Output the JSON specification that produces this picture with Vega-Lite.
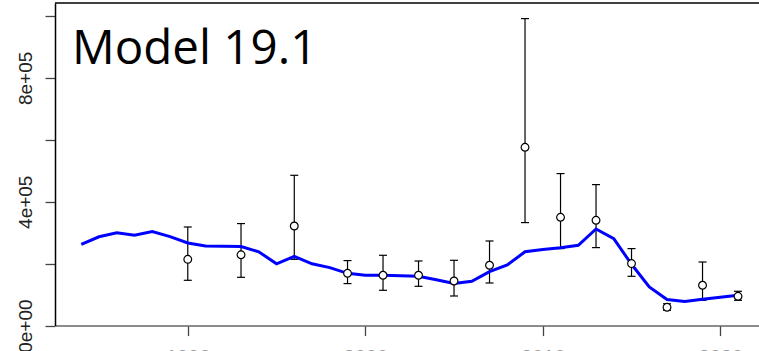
{
  "$schema": "https://vega.github.io/schema/vega-lite/v6.json",
  "autosize": {"type": "none"},
  "padding": {"left": 55, "top": 3, "right": 0, "bottom": 26},
  "width": 709.3,
  "height": 322.6,
  "background": "white",
  "config": {"view": {"stroke": null}},
  "datasets": {
    "fit": [
      {"year": 1984, "value": 262600}, {"year": 1985, "value": 286800}, {"year": 1986, "value": 299700},
      {"year": 1987, "value": 291700}, {"year": 1988, "value": 303600}, {"year": 1989, "value": 287500},
      {"year": 1990, "value": 266800}, {"year": 1991, "value": 257100}, {"year": 1992, "value": 256100},
      {"year": 1993, "value": 255200}, {"year": 1994, "value": 238400}, {"year": 1995, "value": 199600},
      {"year": 1996, "value": 223800}, {"year": 1997, "value": 199600}, {"year": 1998, "value": 187300},
      {"year": 1999, "value": 168900}, {"year": 2000, "value": 162500}, {"year": 2001, "value": 162500},
      {"year": 2002, "value": 160900}, {"year": 2003, "value": 159200}, {"year": 2004, "value": 147900},
      {"year": 2005, "value": 135700}, {"year": 2006, "value": 143100}, {"year": 2007, "value": 174400},
      {"year": 2008, "value": 195700}, {"year": 2009, "value": 238400}, {"year": 2010, "value": 245500},
      {"year": 2011, "value": 251300}, {"year": 2012, "value": 259400}, {"year": 2013, "value": 312000},
      {"year": 2014, "value": 281000}, {"year": 2015, "value": 198000}, {"year": 2016, "value": 124700},
      {"year": 2017, "value": 84300}, {"year": 2018, "value": 77500}, {"year": 2019, "value": 84900},
      {"year": 2020, "value": 91400}, {"year": 2021, "value": 97900}
    ],
    "obs": [
      {"year": 1990, "est": 214100, "lo": 146300, "hi": 318500},
      {"year": 1993, "est": 228700, "lo": 156000, "hi": 329500},
      {"year": 1996, "est": 321700, "lo": 214100, "hi": 485500},
      {"year": 1999, "est": 168900, "lo": 135700, "hi": 210000},
      {"year": 2001, "est": 162500, "lo": 114000, "hi": 227100},
      {"year": 2003, "est": 162500, "lo": 126900, "hi": 208700},
      {"year": 2005, "est": 144100, "lo": 95600, "hi": 210900},
      {"year": 2007, "est": 194800, "lo": 137600, "hi": 273300},
      {"year": 2009, "est": 575900, "lo": 332700, "hi": 991600},
      {"year": 2011, "est": 349800, "lo": 248700, "hi": 491000},
      {"year": 2013, "est": 340100, "lo": 251900, "hi": 455400},
      {"year": 2015, "est": 200300, "lo": 159200, "hi": 248700},
      {"year": 2017, "est": 59100, "lo": 49400, "hi": 70400},
      {"year": 2019, "est": 130200, "lo": 81700, "hi": 205400},
      {"year": 2021, "est": 94600, "lo": 81700, "hi": 110800}
    ],
    "label": [{"text": "Model 19.1", "year": 1983.48, "value": 846300}]
  },
  "encoding": {
    "x": {
      "field": "year", "type": "quantitative",
      "scale": {"domain": [1982.52, 2022.48], "nice": false, "zero": false},
      "axis": {
        "title": null, "values": [1990, 2000, 2010, 2020], "format": "d", "grid": false,
        "tickSize": 10, "tickColor": "#444444", "tickWidth": 1.3,
        "domainColor": "#666666", "domainWidth": 1.5,
        "labelFont": "Liberation Sans", "labelFontSize": 20, "labelColor": "#999999",
        "labelPadding": 12, "labelBaseline": "top", "labelFlush": false, "labelOverlap": false, "labelBound": false
      }
    }
  },
  "layer": [
    {
      "data": {"name": "obs"},
      "mark": {"type": "rule", "color": "black", "strokeWidth": 1.2},
      "encoding": {
        "y": {"field": "lo", "type": "quantitative"},
        "y2": {"field": "hi"}
      }
    },
    {
      "data": {"name": "obs"},
      "mark": {"type": "tick", "orient": "horizontal", "color": "black", "size": 8, "thickness": 1.2, "opacity": 1},
      "encoding": {"y": {"field": "lo", "type": "quantitative"}}
    },
    {
      "data": {"name": "obs"},
      "mark": {"type": "tick", "orient": "horizontal", "color": "black", "size": 8, "thickness": 1.2, "opacity": 1},
      "encoding": {"y": {"field": "hi", "type": "quantitative"}}
    },
    {
      "data": {"name": "fit"},
      "mark": {"type": "line", "color": "#0000FF", "strokeWidth": 3},
      "encoding": {
        "y": {
          "field": "value", "type": "quantitative",
          "scale": {"domain": [0, 1042000], "nice": false},
          "axis": {
            "title": null, "grid": false,
            "values": [0, 200000, 400000, 600000, 800000, 1000000],
            "labelExpr": "datum.value == 0 ? '0e+00' : datum.value == 400000 ? '4e+05' : datum.value == 800000 ? '8e+05' : ''",
            "labelAngle": -90, "labelAlign": "center", "labelBaseline": "bottom",
            "labelFont": "Liberation Sans", "labelFontSize": 19, "labelColor": "#222222",
            "labelPadding": 10, "labelFlush": false, "labelOverlap": false, "labelBound": false,
            "tickSize": 10, "tickColor": "#444444", "tickWidth": 1.3,
            "domainColor": "black", "domainWidth": 1.5
          }
        }
      }
    },
    {
      "data": {"name": "obs"},
      "mark": {"type": "point", "shape": "circle", "filled": false, "fill": "white", "stroke": "black", "strokeWidth": 1.2, "size": 60, "opacity": 1},
      "encoding": {"y": {"field": "est", "type": "quantitative"}}
    },
    {
      "data": {"name": "label"},
      "mark": {"type": "text", "font": "Open Sans", "fontSize": 47.5, "align": "left", "baseline": "alphabetic", "color": "black"},
      "encoding": {
        "y": {"field": "value", "type": "quantitative"},
        "text": {"field": "text"}
      }
    },
    {
      "data": {"values": [{"top": 1042000}]},
      "mark": {"type": "rule", "color": "black", "strokeWidth": 1.5},
      "encoding": {"y": {"field": "top", "type": "quantitative"}, "x": {"value": 0}, "x2": {"value": 709.3}}
    }
  ]
}
